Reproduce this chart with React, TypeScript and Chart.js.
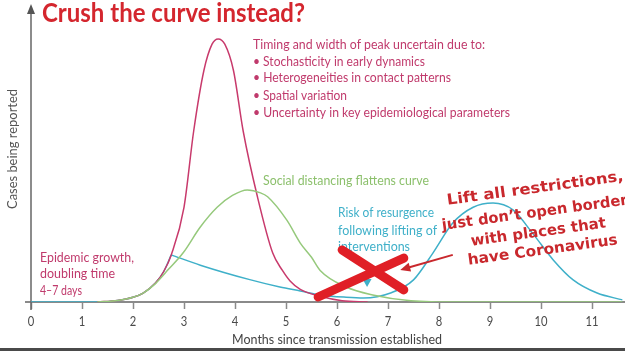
import React, { useEffect, useRef } from "react";
import { Chart, registerables } from "chart.js";
Chart.register(...registerables);

// ---- data (months since transmission, relative cases) ----
const xTicks = [0, 1, 2, 3, 4, 5, 6, 7, 8, 9, 10, 11];

const redMonths = [1.3, 1.7, 2.0, 2.2, 2.44, 2.6, 2.75, 3.0, 3.19, 3.39, 3.55, 3.67, 3.8, 3.97, 4.16, 4.44, 4.74, 4.93, 5.08, 5.28, 5.67, 6.1, 6.6];
const redValues = [0, 0.6, 1.8, 3.4, 7.2, 11.5, 17.9, 36, 65, 88, 98, 100, 98, 88, 65, 40, 18.6, 12, 8, 4.8, 2.2, 0.5, 0];

const greenMonths = [1.3, 1.7, 2.0, 2.2, 2.44, 2.7, 2.98, 3.32, 3.65, 3.95, 4.24, 4.5, 4.64, 5.02, 5.28, 5.5, 5.67, 6.18, 6.7, 7.45, 8.4, 11.6];
const greenValues = [0, 0.6, 1.8, 3.4, 7.0, 12.5, 18.6, 28.5, 36, 40.5, 42.6, 41.5, 40, 31, 22.4, 17, 12, 5.7, 2.7, 0.5, 0, 0];

const blueRiseMonths = [0, 1.3, 1.7, 2.0, 2.2, 2.44, 2.6, 2.75];
const blueRiseValues = [0, 0, 0.6, 1.8, 3.4, 7.2, 11.5, 17.9];

const blueFallMonths = [2.75, 3.32, 4.29, 4.88, 5.28, 5.67, 6.18, 6.52, 7.05, 7.5, 7.88, 8.27, 8.67, 9.06, 9.45, 9.84, 10.24, 10.63, 11.1, 11.6];
const blueFallValues = [17.9, 14, 8.5, 5.7, 4.2, 2.7, 1.8, 1.5, 3.4, 8.4, 18.6, 30, 36, 37.6, 35, 26, 16, 8.4, 3.4, 0.8];

const pts = (xs: number[], ys: number[]) => xs.map((x, i) => ({ x, y: ys[i] }));

const RED = "#c83a6c";
const GREEN = "#96c97c";
const TEAL = "#3fb0c9";
const TEXT_RED = "#c03a6c";
const HAND = "#c9282d";

function fitText(
  ctx: CanvasRenderingContext2D,
  text: string,
  x: number,
  y: number,
  w: number,
  font: string,
  color: string,
  align: "left" | "center" = "left",
  rot = 0
) {
  ctx.save();
  ctx.font = font;
  ctx.fillStyle = color;
  ctx.textBaseline = "middle";
  ctx.textAlign = "left";
  const m = ctx.measureText(text).width;
  ctx.translate(x, y);
  if (rot) ctx.rotate(rot);
  const s = w / m;
  ctx.scale(s, 1);
  ctx.fillText(text, align === "center" ? -m / 2 : 0, 0);
  ctx.restore();
}

const decor = {
  id: "decor",
  beforeDatasetsDraw(chart: any) {
    const ctx: CanvasRenderingContext2D = chart.ctx;
    const xs = chart.scales.x;
    const ys = chart.scales.y;
    const x0 = xs.getPixelForValue(0);
    const yb = ys.getPixelForValue(0);
    ctx.save();
    // x axis
    ctx.strokeStyle = "#8a8a8a";
    ctx.lineWidth = 2;
    ctx.beginPath();
    ctx.moveTo(x0 - 6, yb);
    ctx.lineTo(chart.width, yb);
    ctx.stroke();
    ctx.lineWidth = 1.5;
    for (const t of xTicks) {
      const px = Math.round(xs.getPixelForValue(t)) + 0.5;
      ctx.beginPath();
      ctx.moveTo(px, yb);
      ctx.lineTo(px, yb + 7);
      ctx.stroke();
    }
    // y axis
    ctx.strokeStyle = "#666";
    ctx.lineWidth = 1.5;
    ctx.beginPath();
    ctx.moveTo(x0, ys.getPixelForValue(ys.max) + 6);
    ctx.lineTo(x0, yb + 8);
    ctx.stroke();
    ctx.fillStyle = "#555";
    const top = ys.getPixelForValue(ys.max);
    ctx.beginPath();
    ctx.moveTo(x0, top - 1);
    ctx.lineTo(x0 - 4, top + 9);
    ctx.lineTo(x0 + 4, top + 9);
    ctx.closePath();
    ctx.fill();
    ctx.restore();
  },
  afterDatasetsDraw(chart: any) {
    const ctx: CanvasRenderingContext2D = chart.ctx;
    const xs = chart.scales.x;
    const ys = chart.scales.y;
    const X = (v: number) => xs.getPixelForValue(v);
    const Y = (v: number) => ys.getPixelForValue(v);
    const yb = Y(0);
    const sans = "Lato";

    // tick labels
    for (const t of xTicks) {
      fitText(ctx, String(t), X(t), yb + 20, String(t).length * 6.5, `13px ${sans}`, "#4a4a4a", "center");
    }
    fitText(ctx, "Months since transmission established", 337, 340, 210, `13px ${sans}`, "#444", "center");
    // y title
    ctx.save();
    ctx.translate(13, 149);
    ctx.rotate(-Math.PI / 2);
    fitText(ctx, "Cases being reported", 0, 0, 120, `13px ${sans}`, "#555", "center");
    ctx.restore();

    // title
    fitText(ctx, "Crush the curve instead?", 42, 14, 263, `bold 26px ${sans}`, "#d4262e");

    // annotations
    const f = `13px ${sans}`;
    fitText(ctx, "Timing and width of peak uncertain due to:", 253, 45, 232, f, TEXT_RED);
    fitText(ctx, "• Stochasticity in early dynamics", 253, 62, 172, f, TEXT_RED);
    fitText(ctx, "• Heterogeneities in contact patterns", 253, 78, 198, f, TEXT_RED);
    fitText(ctx, "• Spatial variation", 253, 96, 94, f, TEXT_RED);
    fitText(ctx, "• Uncertainty in key epidemiological parameters", 253, 113, 257, f, TEXT_RED);

    fitText(ctx, "Social distancing flattens curve", 263, 181, 166, f, "#8cc06c");

    fitText(ctx, "Risk of resurgence", 338, 213, 96, f, TEAL);
    fitText(ctx, "following lifting of", 338, 231, 99, f, TEAL);
    fitText(ctx, "interventions", 338, 247, 72, f, TEAL);

    fitText(ctx, "Epidemic growth,", 40, 258, 94, f, TEXT_RED);
    fitText(ctx, "doubling time", 40, 274, 75, f, TEXT_RED);
    fitText(ctx, "4–7 days", 40, 291, 42, f, TEXT_RED);

    // teal triangle marker
    ctx.save();
    ctx.fillStyle = TEAL;
    const tx = X(6.59), ty = Y(7.2);
    ctx.beginPath();
    ctx.moveTo(tx - 4.5, ty - 4);
    ctx.lineTo(tx + 4.5, ty - 4);
    ctx.lineTo(tx, ty + 4);
    ctx.closePath();
    ctx.fill();
    ctx.restore();

    // red X
    ctx.save();
    ctx.strokeStyle = "#e01f26";
    ctx.lineWidth = 9;
    ctx.lineCap = "round";
    ctx.beginPath();
    ctx.moveTo(X(5.63), Y(1.9));
    ctx.lineTo(X(7.31), Y(16.7));
    ctx.moveTo(X(6.1), Y(19.8));
    ctx.lineTo(X(7.31), Y(4.6));
    ctx.stroke();
    // arrow
    ctx.strokeStyle = HAND;
    ctx.fillStyle = HAND;
    ctx.lineWidth = 2;
    ctx.lineCap = "butt";
    const ax1 = X(8.27), ay1 = Y(17.9), ax2 = X(7.24), ay2 = Y(12.2);
    const ang = Math.atan2(ay2 - ay1, ax2 - ax1);
    ctx.beginPath();
    ctx.moveTo(ax1, ay1);
    ctx.lineTo(ax2 - 6 * Math.cos(ang), ay2 - 6 * Math.sin(ang));
    ctx.stroke();
    ctx.beginPath();
    ctx.moveTo(ax2, ay2);
    ctx.lineTo(ax2 - 10 * Math.cos(ang) + 4.5 * Math.sin(ang), ay2 - 10 * Math.sin(ang) - 4.5 * Math.cos(ang));
    ctx.lineTo(ax2 - 10 * Math.cos(ang) - 4.5 * Math.sin(ang), ay2 - 10 * Math.sin(ang) + 4.5 * Math.cos(ang));
    ctx.closePath();
    ctx.fill();
    ctx.restore();

    // handwritten note
    const rot = (-7.8 * Math.PI) / 180;
    const hf = `bold 15px 'DejaVu Sans'`;
    fitText(ctx, "Lift all restrictions,", 447, 201, 178, hf, HAND, "left", rot);
    fitText(ctx, "just don’t open borders", 442, 226, 196, hf, HAND, "left", rot);
    fitText(ctx, "with places that", 471, 242, 136, hf, HAND, "left", rot);
    fitText(ctx, "have Coronavirus", 468, 261, 151, hf, HAND, "left", rot);

    // bottom frame band
    ctx.save();
    ctx.fillStyle = "#4a4a4a";
    ctx.fillRect(0, chart.height - 3, chart.width, 3);
    ctx.restore();
  },
};

export default function App() {
  const ref = useRef<HTMLCanvasElement | null>(null);
  useEffect(() => {
    if (!ref.current) return;
    const common = { pointRadius: 0, borderWidth: 1.5, cubicInterpolationMode: "monotone" as const, fill: false };
    const chart = new Chart(ref.current, {
      type: "line",
      data: {
        datasets: [
          { ...common, label: "Green", data: pts(greenMonths, greenValues), borderColor: GREEN },
          { ...common, label: "Red", data: pts(redMonths, redValues), borderColor: RED },
          { ...common, label: "BlueRise", data: pts(blueRiseMonths, blueRiseValues), borderColor: TEAL },
          { ...common, label: "BlueFall", data: pts(blueFallMonths, blueFallValues), borderColor: TEAL },
        ],
      },
      options: {
        animation: false,
        responsive: false,
        devicePixelRatio: 1,
        layout: { padding: { left: 31, right: 2.4, top: 5, bottom: 49 } },
        plugins: { legend: { display: false }, tooltip: { enabled: false } },
        scales: {
          x: { type: "linear", min: 0, max: 11.6, display: false },
          y: { type: "linear", min: 0, max: 112.9, display: false },
        },
      },
      plugins: [decor],
    });
    return () => chart.destroy();
  }, []);
  return (
    <div style={{ position: "fixed", left: 0, top: 0, width: 625, height: 351, background: "#fff" }}>
      <canvas ref={ref} width={625} height={351} style={{ display: "block" }} />
    </div>
  );
}
